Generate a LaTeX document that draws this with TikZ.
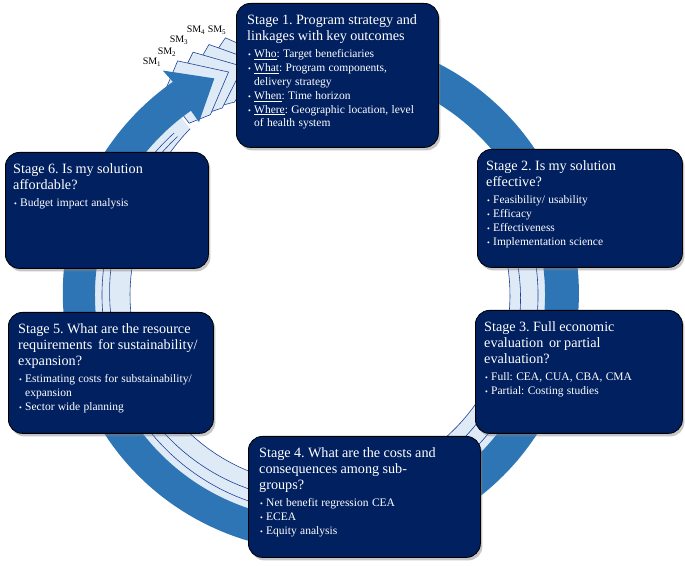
\documentclass[tikz,border=0pt]{standalone}
\usepackage{fontspec}
\setmainfont{Liberation Serif}
\usetikzlibrary{positioning,shadows}

\definecolor{navy}{RGB}{0,32,96}
\definecolor{ringblue}{RGB}{46,117,182}
\definecolor{bandblue}{RGB}{222,235,247}
\definecolor{edgeblue}{RGB}{32,64,150}

\newcommand{\ttl}{\fontsize{14.2}{16}\selectfont}
\newcommand{\bfnt}{\fontsize{11.5}{13.8}\selectfont}
\newcommand{\bul}[1]{\par\hangindent=7pt\hangafter=1\noindent\hspace{1pt}\makebox[6pt][l]{\fontsize{8}{8}\selectfont\textbullet}#1\par}

\begin{document}
\frenchspacing
\begin{tikzpicture}[x=1pt, y=1pt,
    stage/.style={draw=black, line width=0.8pt, fill=navy, rounded corners=14pt,
      drop shadow={shadow xshift=2pt, shadow yshift=-3pt, opacity=0.45},
      anchor=north west, inner sep=0pt},
    stagetext/.style={text=white, inner sep=0pt, align=left},
    smlabel/.style={font=\fontsize{10}{10}\selectfont, inner sep=0pt},
    layer/.style={fill=bandblue, draw=edgeblue, line width=0.6pt},
    thinline/.style={edgeblue, line width=0.6pt}]

  \useasboundingbox (0,0) rectangle (685,565);

  % the cycle arrow
  \begin{scope}[shift={(320,270)}]
    \fill[bandblue] (10:225) arc[start angle=10, end angle=-232, radius=225]
      -- plot[domain=-232:10, samples=90] (\x:{190+0.5*max(0,-190-\x)}) -- cycle;
    \draw[thinline] plot[domain=-232:10, samples=90] (\x:{190+0.5*max(0,-190-\x)});
    \draw[thinline] (10:218) arc[start angle=10, end angle=-228, radius=218];
    \draw[thinline] plot[domain=10:-228, samples=90] (\x:{200+0.055*(10-\x)});
    % stacked heads SM2..SM5
    \foreach \k in {4,3,2,1} {
      \pgfmathsetmacro\a{125-3.7*\k}
      \filldraw[layer] ({\a+6}:256) -- (\a:274) -- ({\a-9}:241) -- (\a:211) -- ({\a+6}:216) -- cycle;
    }
    \fill[ringblue] (65:260) arc[start angle=65, end angle=-235, radius=258]
      -- (-235:274) -- (-244:241) -- (-235:211) -- (-235:225)
      arc[start angle=-235, end angle=65, radius=225] -- cycle;
  \end{scope}

  \node[smlabel] (sm1) at (152,503) {SM\textsubscript{1}};
  \node[smlabel] (sm2) at (167,513) {SM\textsubscript{2}};
  \node[smlabel] (sm3) at (179,525) {SM\textsubscript{3}};
  \node[smlabel] (sm4) at (196,535) {SM\textsubscript{4}};
  \node[smlabel] (sm5) at (217,535) {SM\textsubscript{5}};

  % stage 1
  \node[stage, minimum width=202pt, minimum height=144pt] (s1) at (236,562) {};
  \node[stagetext, text width=196pt, below right=11pt and 11pt of s1.north west] (s1t) {%
    {\ttl Stage 1. Program strategy and\\ linkages with key outcomes\par}\vspace{4pt}
    {\bfnt\bul{\underline{Who}: Target beneficiaries}
    \bul{\underline{What}: Program components,\newline delivery strategy}
    \bul{\underline{When}: Time horizon}
    \bul{\underline{Where}: Geographic location, level\newline of health system}}};

  % stage 2
  \node[stage, minimum width=205pt, minimum height=118pt] (s2) at (477,416) {};
  \node[stagetext, text width=195pt, below right=11pt and 9pt of s2.north west] (s2t) {%
    {\ttl Stage 2. Is my solution\\ effective?\par}\vspace{4pt}
    {\bfnt\bul{Feasibility/ usability}
    \bul{Efficacy}
    \bul{Effectiveness}
    \bul{Implementation science}}};

  % stage 3
  \node[stage, minimum width=207pt, minimum height=123pt] (s3) at (475,255) {};
  \node[stagetext, text width=197pt, below right=11pt and 9pt of s3.north west] (s3t) {%
    {\ttl Stage 3. Full economic\\ evaluation\, or partial\\ evaluation?\par}\vspace{4pt}
    {\bfnt\bul{Full: CEA, CUA, CBA, CMA}
    \bul{Partial: Costing studies}}};

  % stage 4
  \node[stage, minimum width=232pt, minimum height=121pt] (s4) at (248,129) {};
  \node[stagetext, text width=222pt, below right=11pt and 11pt of s4.north west] (s4t) {%
    {\ttl Stage 4. What are the costs and\\ consequences among sub-\\ groups?\par}\vspace{4pt}
    {\bfnt\bul{Net benefit regression CEA}
    \bul{ECEA}
    \bul{Equity analysis}}};

  % stage 5
  \node[stage, minimum width=205pt, minimum height=121pt] (s5) at (8,253) {};
  \node[stagetext, text width=197pt, below right=11pt and 10pt of s5.north west] (s5t) {%
    {\ttl Stage 5. What are the resource\\ requirements\, for sustainability/\\ expansion?\par}\vspace{4pt}
    {\bfnt\bul{Estimating costs for substainability/\newline expansion}
    \bul{Sector wide planning}}};

  % stage 6
  \node[stage, minimum width=203pt, minimum height=116pt] (s6) at (5,413) {};
  \node[stagetext, text width=195pt, below right=11pt and 8pt of s6.north west] (s6t) {%
    {\ttl Stage 6. Is my solution\\ affordable?\par}\vspace{4pt}
    {\bfnt\bul{Budget impact analysis}}};

\end{tikzpicture}
\end{document}
